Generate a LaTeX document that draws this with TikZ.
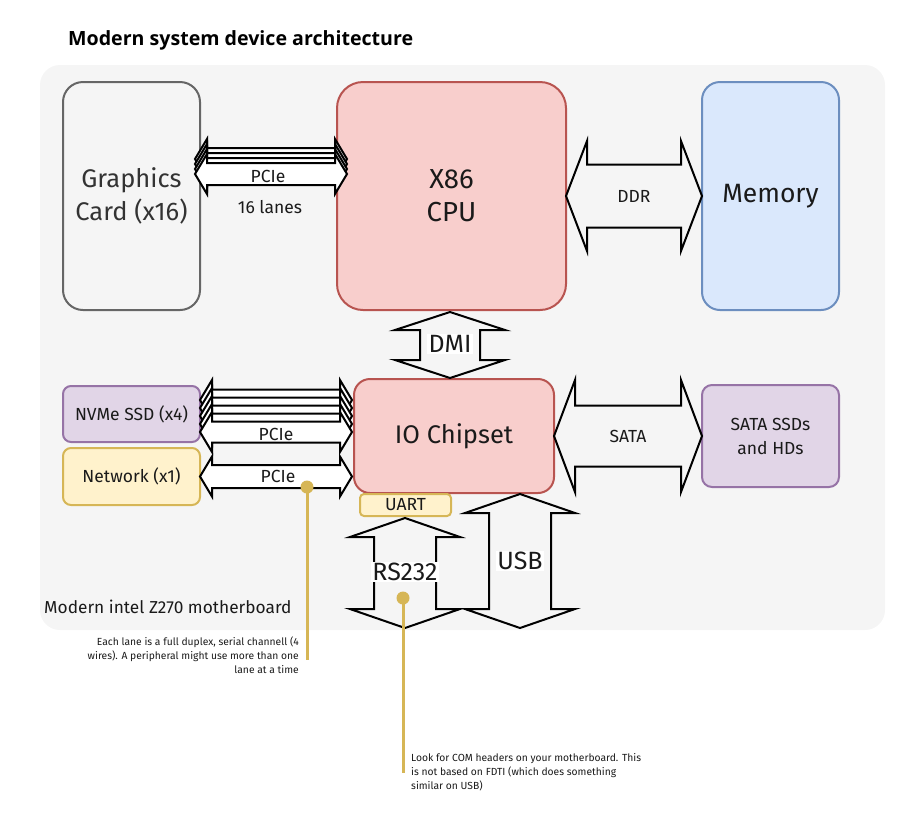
\documentclass[tikz,border=0pt]{standalone}
\usepackage{fontspec}
\setmainfont{Fira Sans}
\newfontfamily\titlefont{Open Sans}
\definecolor{bgc}{HTML}{F5F5F5}
\definecolor{redf}{HTML}{F8CECC}\definecolor{reds}{HTML}{B85450}
\definecolor{bluef}{HTML}{DAE8FC}\definecolor{blues}{HTML}{6C8EBF}
\definecolor{purf}{HTML}{E1D5E7}\definecolor{purs}{HTML}{9673A6}
\definecolor{yelf}{HTML}{FFF2CC}\definecolor{yels}{HTML}{D6B656}
\definecolor{grys}{HTML}{666666}
\definecolor{txt}{HTML}{1A1A1A}
\newcommand\harr[7][]{\draw[arr,#1] (#2,#4) -- (#2+#7,#4-#6) -- (#2+#7,#4-#5) -- (#3-#7,#4-#5) -- (#3-#7,#4-#6) -- (#3,#4) -- (#3-#7,#4+#6) -- (#3-#7,#4+#5) -- (#2+#7,#4+#5) -- (#2+#7,#4+#6) -- cycle;}
\newcommand\varr[7][]{\draw[arr,#1] (#4,#2) -- (#4-#6,#2+#7) -- (#4-#5,#2+#7) -- (#4-#5,#3-#7) -- (#4-#6,#3-#7) -- (#4,#3) -- (#4+#6,#3-#7) -- (#4+#5,#3-#7) -- (#4+#5,#2+#7) -- (#4+#6,#2+#7) -- cycle;}
\begin{document}
\begin{tikzpicture}[x=1pt,y=-1pt,
  box/.style={draw,line width=2pt,align=center,inner sep=0pt,text=txt},
  arr/.style={draw=black,line width=2pt,line join=miter},
  lbl/.style={inner sep=1.5pt,text=txt},
  small/.style={font=\fontsize{17.5}{20}\selectfont},
  big/.style={font=\fontsize{25}{28}\selectfont},
  callout/.style={draw=yels,line width=3pt},
  dot/.style={circle,fill=yels,inner sep=0pt,minimum size=13pt},
  note/.style={font=\fontsize{10.3}{14}\selectfont,text=txt,inner sep=0pt}]
\useasboundingbox (0,0) rectangle (921,815);
\node[anchor=base west,inner sep=0pt,font=\titlefont\bfseries\fontsize{19.6}{22}\selectfont] (title) at (68,45) {Modern system device architecture};
\fill[bgc,rounded corners=20pt] (40,65) rectangle (885,630);
% boxes
\node[box,draw=grys,fill=bgc,rounded corners=20pt,minimum width=137pt,minimum height=228pt,text=black!80,font=\fontsize{25.5}{33}\selectfont] (gpu) at (131.5,196) {Graphics\\Card (x16)};
\node[box,draw=reds,fill=redf,rounded corners=26pt,minimum width=229pt,minimum height=228pt,font=\fontsize{27.5}{33}\selectfont] (cpu) at (451.5,196) {X86\\CPU};
\node[box,draw=blues,fill=bluef,rounded corners=18pt,minimum width=137pt,minimum height=228pt,font=\fontsize{26.5}{30}\selectfont] (mem) at (770.5,196) {Memory};
\node[box,draw=reds,fill=redf,rounded corners=16pt,minimum width=200pt,minimum height=114pt,font=\fontsize{25.5}{30}\selectfont] (io) at (454,436) {IO Chipset};
\node[box,draw=purs,fill=purf,rounded corners=8pt,minimum width=137pt,minimum height=56pt,small] (nvme) at (131.5,414) {NVMe SSD (x4)};
\node[box,draw=yels,fill=yelf,rounded corners=8pt,minimum width=137pt,minimum height=57pt,small] (net) at (131.5,476.5) {Network (x1)};
\node[box,draw=purs,fill=purf,rounded corners=10pt,minimum width=137pt,minimum height=102pt,font=\fontsize{17.5}{24}\selectfont] (sata) at (770.5,436) {SATA SSDs\\and HDs};
\node[box,draw=yels,fill=yelf,rounded corners=4pt,minimum width=91pt,minimum height=22pt,small] (uart) at (405.5,505) {UART};
% PCIe x16 stack
\foreach \o in {15,10,5}{\harr[fill=white]{195}{347}{174-\o}{11}{20}{12}}
\harr[fill=white]{195}{347}{174}{11}{20}{12}
\node[lbl,fill=white,small,inner sep=1pt] (pcie1) at (268,176) {PCIe};
\node[lbl,small] (lanes) at (270,207) {16 lanes};
% PCIe x4 stack
\foreach \o in {32,24,16,8}{\harr[fill=white]{200}{352}{432-\o}{10.5}{20}{12}}
\harr[fill=white]{200}{352}{432}{10.5}{20}{12}
\node[lbl,fill=white,small,inner sep=1pt] (pcie2) at (276,434) {PCIe};
% PCIe x1
\harr[fill=white]{200}{352}{476.5}{11.5}{20}{12}
\node[lbl,fill=white,small,inner sep=1pt] (pcie3) at (278,476) {PCIe};
% DDR
\harr{566}{702}{196}{31.5}{55}{21}
\node[lbl,small] (ddr) at (634,196) {DDR};
% SATA
\harr{554}{702}{436}{30.5}{56}{21}
\node[lbl,small] (satal) at (628,436) {SATA};
% DMI
\varr{312}{378}{450}{30}{55}{18}
\node[lbl,fill=white,big] (dmi) at (450,344) {DMI};
% RS232
\varr{518}{628}{405}{31}{55}{19}
\node[lbl,fill=white,big] (rs) at (405,572) {RS232};
% USB
\varr{494}{628}{520}{31}{55}{19}
\node[lbl,fill=white,big] (usb) at (520,561) {USB};
% motherboard label
\node[anchor=base west,inner sep=0pt,text=txt,font=\fontsize{17.3}{20}\selectfont] (mb) at (44,613) {Modern intel Z270 motherboard};
% callouts
\node[dot] (d1) at (307,487) {};
\coordinate (e1) at (307,660);
\draw[callout] (d1.center) -- (e1);
\node[note,align=right,anchor=east] (n1) at (299,655) {Each lane is a full duplex, serial channell (4\\wires). A peripheral might use more than one\\lane at a time};
\node[dot] (d2) at (403,598) {};
\coordinate (e2) at (403,773);
\draw[callout] (d2.center) -- (e2);
\node[note,align=left,anchor=west] (n2) at (411,772) {Look for COM headers on your motherboard. This\\is not based on FDTI (which does something\\similar on USB)};
\end{tikzpicture}
\end{document}
